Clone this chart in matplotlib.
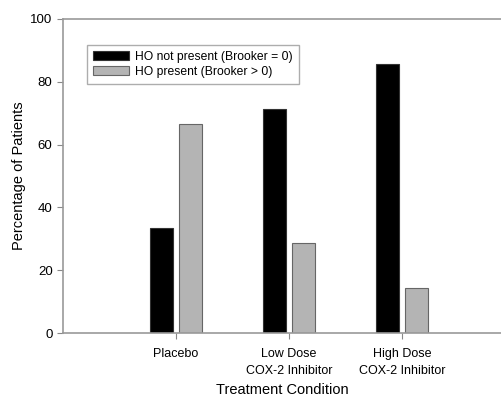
import matplotlib
matplotlib.use("Agg")
import matplotlib.pyplot as plt
import numpy as np

plt.rcParams['font.family'] = ['Liberation Sans', 'DejaVu Sans']

conditions = ['Placebo', 'Low Dose\nCOX-2 Inhibitor', 'High Dose\nCOX-2 Inhibitor']
not_present = [33.3, 71.4, 85.7]
present = [66.7, 28.6, 14.3]
series_labels = ['HO not present (Brooker = 0)', 'HO present (Brooker > 0)']

x = np.arange(1, len(conditions) + 1)
width = 0.21
offset = 0.128

fig = plt.figure(figsize=(5.02, 3.97), dpi=100)
ax = fig.add_axes([0.1255, 0.1612, 0.8745, 0.791])

ax.bar(x - offset, not_present, width, color='black', edgecolor='#333333',
       linewidth=0.8, label=series_labels[0])
ax.bar(x + offset, present, width, color='#b4b4b4', edgecolor='#666666',
       linewidth=0.8, label=series_labels[1])

ax.set_xlim(0, 3.885)
ax.set_ylim(0, 100)
ax.set_xticks(x)
ax.set_xticklabels(conditions, fontsize=9, linespacing=1.55)
ax.set_yticks([0, 20, 40, 60, 80, 100])
ax.tick_params(axis='y', labelsize=9.5, length=4, color='#888888')
ax.tick_params(axis='x', length=4, color='#888888', pad=7)

for side in ['left', 'bottom', 'top']:
    ax.spines[side].set_color('#999999')
    ax.spines[side].set_linewidth(1.2)
ax.spines['right'].set_visible(False)

ax.set_xlabel('Treatment Condition', fontsize=10.5, labelpad=4)
ax.set_ylabel('Percentage of Patients', fontsize=10.5, labelpad=3)

leg = ax.legend(loc='upper left', bbox_to_anchor=(0.0545, 0.918), fontsize=8.7,
                frameon=True, fancybox=False, borderpad=0.5,
                handlelength=3.0, handleheight=0.8, labelspacing=0.25,
                handletextpad=0.5, borderaxespad=0)
leg.get_frame().set_edgecolor('#999999')
leg.get_frame().set_linewidth(1.0)

fig.savefig('out.png', dpi=100)
